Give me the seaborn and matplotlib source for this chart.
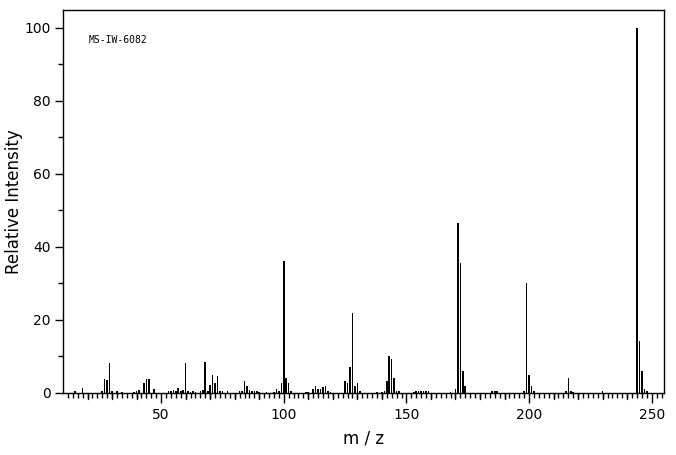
import seaborn as sns
import pandas as pd
from matplotlib import pyplot as plt
from matplotlib.ticker import MultipleLocator

# m/z values and relative intensities
mz = [15, 18, 26, 27, 28, 29, 30, 32, 34, 39, 40, 41, 43, 44, 45, 47,
      53, 54, 55, 56, 57, 58, 59, 60, 61, 62, 63, 64, 66, 67, 68, 69,
      70, 71, 72, 73, 74, 75, 77, 82, 83, 84, 85, 86, 87, 88, 89, 90,
      93, 96, 97, 98, 99, 100, 101, 102, 103, 109, 110, 112, 113, 114,
      115, 116, 117, 118, 119, 125, 126, 127, 128, 129, 130, 131, 138,
      140, 141, 142, 143, 144, 145, 146, 147, 153, 154, 155, 156, 157,
      158, 159, 168, 170, 171, 172, 173, 174, 185, 186, 187, 198, 199,
      200, 201, 202, 215, 216, 217, 218, 230, 244, 245, 246, 247, 248]
intensity = [0.5, 1.4, 0.5, 3.7, 3.5, 8.3, 0.5, 0.5, 0.4, 0.4, 0.5, 0.8, 2.6, 3.7, 3.7, 1.1,
             0.5, 0.5, 0.7, 0.5, 1.4, 0.5, 0.7, 8.2, 0.5, 0.4, 0.6, 0.4, 0.5, 0.7, 8.4, 0.6,
             2.3, 4.9, 2.8, 4.6, 0.5, 0.5, 0.5, 0.5, 0.6, 3.2, 1.8, 0.7, 0.5, 0.5, 0.5, 0.4,
             0.4, 0.4, 1.2, 0.6, 2.6, 36.2, 4.0, 2.6, 0.5, 0.4, 0.4, 1.0, 2.0, 1.0,
             1.0, 1.6, 2.0, 0.5, 0.4, 3.2, 2.7, 7.0, 22.0, 1.8, 2.7, 0.5, 0.4,
             0.4, 0.5, 3.4, 10.1, 9.2, 4.0, 0.5, 0.5, 0.4, 0.6, 0.5, 0.6, 0.5,
             0.5, 0.5, 0.4, 1.2, 46.5, 35.5, 6.0, 2.0, 0.5, 0.5, 0.5, 0.5, 30.0,
             4.8, 2.0, 0.5, 0.5, 4.0, 0.5, 0.4, 0.5, 100.0, 14.2, 6.1, 1.0, 0.5]
sample_id = "MS-IW-6082"

df = pd.DataFrame({"mz": mz, "intensity": intensity})

sns.set_style("white")
plt.rcParams["text.color"] = "black"
plt.rcParams["axes.labelcolor"] = "black"
plt.rcParams["xtick.color"] = "black"
plt.rcParams["ytick.color"] = "black"
fig = plt.figure(figsize=(6.76, 4.55), dpi=100)
ax = fig.add_axes([0.0932, 0.1363, 0.889, 0.8417])

sns.barplot(data=df, x="mz", y="intensity", native_scale=True, color="black",
            width=0.65, linewidth=0, errorbar=None, saturation=1, ax=ax)

ax.set_xlim(10, 255)
ax.set_ylim(0, 104.8)

# x ticks: labelled every 50, medium every 10, small every 2
ax.set_xticks([50, 100, 150, 200, 250])
ax.set_xticks(range(12, 255, 2), minor=True)
ax.tick_params(axis="x", which="major", length=7.5, width=1, colors="black",
               labelsize=10, pad=3)
ax.tick_params(axis="x", which="minor", length=3.5, width=1, colors="black")
for x10 in range(20, 255, 10):
    if x10 % 50:
        ax.plot([x10, x10], [0, -0.0145], color="black", lw=1,
                transform=ax.get_xaxis_transform(), clip_on=False)

ax.yaxis.set_major_locator(MultipleLocator(20))
ax.yaxis.set_minor_locator(MultipleLocator(10))
ax.tick_params(axis="y", which="major", length=6, width=1, colors="black",
               labelsize=10, pad=3)
ax.tick_params(axis="y", which="minor", length=3.5, width=1, colors="black")
ax.tick_params(which="both", direction="out", bottom=True, left=True,
               top=False, right=False)

for s in ax.spines.values():
    s.set_color("black")
    s.set_linewidth(1)

ax.set_xlabel("m / z", fontsize=12, labelpad=6, color="black")
ax.set_ylabel("Relative Intensity", fontsize=12, labelpad=1, color="black")
ax.text(0.042, 0.935, sample_id, transform=ax.transAxes, fontsize=7,
        family="DejaVu Sans Mono", va="top", ha="left", color="black")

fig.savefig("out.png", dpi=100)
